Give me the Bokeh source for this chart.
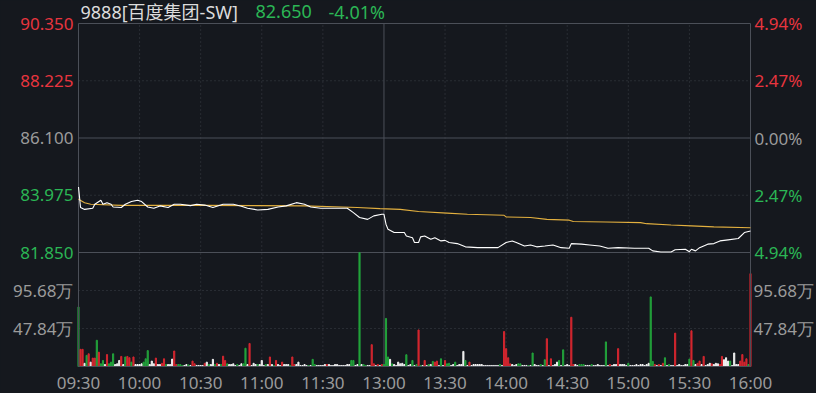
from bokeh.plotting import figure
from bokeh.models import (Range1d, LabelSet, Label, ColumnDataSource, GlobalInlineStyleSheet)
from bokeh.core.properties import field, value
from bokeh.embed import file_html
from bokeh.resources import INLINE

# ---------------- data ----------------
stock_name = "9888[百度集团-SW]"
last_price = "82.650"
last_change = "-4.01%"

time_ticks = [0, 30, 60, 90, 120, 150, 180, 210, 240, 270, 300, 330]
time_labels = ["09:30", "10:00", "10:30", "11:00", "11:30", "13:00",
               "13:30", "14:00", "14:30", "15:00", "15:30", "16:00"]
session_break = 150

price_ticks = [90.350, 88.225, 86.100, 83.975, 81.850]
price_labels = ["90.350", "88.225", "86.100", "83.975", "81.850"]
pct_labels = ["4.94%", "2.47%", "0.00%", "2.47%", "4.94%"]
label_kind = ["up", "up", "flat", "down", "down"]
prev_close = 86.100

vol_ticks = [95.68, 47.84]
vol_labels = ["95.68万", "47.84万"]
vol_max = 143.52

price_min = [0, 1, 3, 7, 8, 11, 12, 14, 16, 17, 21, 23, 26, 29, 31, 34, 37, 40, 44, 47,
             50, 55, 58, 62, 66, 71, 76, 80, 83, 88, 93, 98, 102, 107, 111, 114, 119, 127, 132, 135,
             138, 142, 145, 149, 150, 151, 152, 155, 160, 161, 164, 165, 167, 168, 170, 173, 175, 178, 180, 182,
             186, 190, 196, 202, 206, 210, 213, 215, 219, 222, 225, 229, 233, 237, 241, 242, 247, 251, 256, 260,
             265, 273, 280, 282, 286, 291, 293, 298, 300, 301, 303, 305, 309, 312, 315, 319, 324, 327, 328, 330]
price_val = [84.28, 83.52, 83.45, 83.49, 83.64, 83.79, 83.64, 83.70, 83.64, 83.54,
             83.52, 83.64, 83.74, 83.79, 83.74, 83.54, 83.49, 83.58, 83.52, 83.64,
             83.64, 83.59, 83.64, 83.61, 83.52, 83.64, 83.64, 83.57, 83.49, 83.43,
             83.45, 83.54, 83.58, 83.70, 83.64, 83.54, 83.49, 83.49, 83.49, 83.33,
             83.15, 83.08, 83.21, 83.27, 83.27, 82.90, 82.71, 82.59, 82.59, 82.46,
             82.40, 82.22, 82.22, 82.43, 82.46, 82.34, 82.40, 82.28, 82.30, 82.22,
             82.18, 82.06, 82.03, 82.03, 82.03, 82.22, 82.28, 82.22, 82.09, 82.13,
             82.06, 82.09, 82.13, 82.03, 82.01, 82.18, 82.16, 82.13, 82.09, 82.01,
             82.03, 82.01, 82.01, 81.91, 81.87, 81.87, 81.95, 81.97, 81.88, 81.97,
             81.91, 82.03, 82.16, 82.18, 82.28, 82.32, 82.37, 82.59, 82.61, 82.65]

avg_min = [0, 3, 6, 21, 62, 111, 137, 148, 158, 167, 181, 191, 209, 210, 222, 230, 241, 243,
           259, 276, 279, 291, 301, 312, 330]
avg_val = [83.83, 83.70, 83.64, 83.60, 83.60, 83.58, 83.52, 83.48, 83.45, 83.37, 83.31, 83.27,
           83.23, 83.17, 83.15, 83.08, 83.05, 83.00, 82.98, 82.96, 82.92, 82.87, 82.84, 82.80, 82.77]

# volume per minute (万)
volume = [
    75, 21.6, 21.6, 4, 14, 16, 5.5, 10.6, 10.6, 33,
    18, 3.4, 7.6, 2.5, 15, 3.4, 5.5, 16, 2.5, 3.4,
    7.6, 12.7, 2.5, 12, 12.7, 11, 5.5, 12, 2.5, 2.5,
    2.5, 3.4, 5.5, 9.7, 20, 2.5, 6.8, 3.4, 10.6, 2.5,
    2.5, 4, 9.7, 2.5, 2.5, 2.5, 9.3, 19.5, 2.5, 2.5,
    2.5, 1.3, 1.3, 2.5, 2, 1.3, 6.8, 3.4, 1.3, 1.3,
    1.3, 1.3, 4, 5.5, 2.5, 2.5, 9, 2.5, 4, 2.5,
    2.5, 13, 7.6, 3.4, 2.5, 2.5, 3.4, 1.3, 2.5, 1.3,
    3.4, 3.4, 23, 2.5, 29, 1.3, 4, 2.5, 2.5, 2.5,
    7.6, 1.3, 2.5, 2.5, 12, 2.5, 1.3, 7.6, 2.5, 1.3,
    5.5, 2.5, 2.5, 2.5, 1.3, 12, 2.5, 2.5, 5.5, 1.3,
    1.3, 2.5, 1.3, 1.3, 1.3, 9, 2.5, 1.3, 1.3, 1.3,
    1.3, 2.5, 2.5, 2.5, 1.3, 1.3, 2.5, 2.5, 1.3, 1.3,
    1.3, 1.3, 2.5, 2.5, 7.6, 7.6, 1.3, 2.5, 143.5, 2.5,
    2.5, 1.3, 1.3, 1.3, 27.5, 3.4, 1.3, 2.5, 1.3, 2.5,
    2.5, 60.5, 12, 9, 3.4, 2.5, 1.3, 5.5, 3.4, 4,
    2.5, 14.8, 1.3, 2.5, 7.6, 1.3, 2.5, 46, 1.3, 1.3,
    7.6, 1.3, 2.5, 2.5, 6.4, 5.5, 6.8, 1.3, 9.7, 1.3,
    7.6, 3.4, 4, 1.3, 2.5, 5.5, 1.3, 2.5, 2.5, 19,
    7.6, 1.3, 5.5, 1.3, 2.5, 2.5, 2.5, 2.5, 2.5, 1.3,
    1.3, 1.3, 1.3, 1.3, 1.3, 1.3, 1.3, 2.5, 1.3, 44,
    22.5, 11, 3.4, 2.5, 1.3, 2.5, 3.4, 3.4, 1.3, 1.3,
    1.3, 1.3, 1.3, 17, 2.5, 1.3, 1.3, 2.5, 1.3, 8.5,
    35, 1.3, 9.7, 1.3, 2.5, 5.5, 7.6, 1.3, 21, 1.3,
    2.5, 1.3, 62, 2.5, 2.5, 1.3, 2.5, 2.5, 2.5, 1.3,
    1.3, 1.3, 2.5, 1.3, 1.3, 2.5, 1.3, 1.3, 1.3, 31,
    1.3, 2.5, 1.3, 2.5, 2.5, 22.5, 2.5, 2.5, 2.5, 1.3,
    4, 1.3, 1.3, 1.3, 2.5, 1.3, 2.5, 2.5, 1.3, 2.5,
    4, 87.6, 6.4, 2.5, 1.3, 2.5, 1.3, 4, 11, 1.3,
    2.5, 1.3, 1.3, 42, 1.3, 2.5, 1.3, 1.3, 2.5, 2.5,
    9.3, 45, 7.6, 2.5, 4, 6.8, 2.5, 12.7, 1.3, 2.5,
    4, 3.4, 2.5, 4, 3.4, 2.5, 12.7, 8.5, 11, 6.8,
    6.8, 1.3, 17, 2.5, 2.5, 6.8, 15, 5.5, 9.7, 2.5,
    117,
]
# r = up, g = down, w = unchanged
direction = (
    "grrwgrwrrg" "rggwrgggww" "wrwgrrgrww" "wwgggwwwrw" "wrrgwwwrrg"
    "ggwwgwrrww" "wwrwgwwgrw" "grrgwwwwgw" "wggwrwwwgw" "wwgwrwgrww"
    "rwwwgrrwww" "wwwgwggwww" "wwrwwwwwww" "wwwwggwwgw" "ggwwrrwrwr"
    "gggwgwwwww" "wgwwgwgrgw" "rwgwgrrwgw" "rggwwgwwww" "gwrwwwwwww"
    "wwwwwwwgwr" "rrrwwwggww" "wgwgwwwgwg" "rwrwwwgwgw" "wwrrwwgggw"
    "wwgwwwwwwg" "wrwwwrwwww" "gwwwwwwwww" "wggrwrwrgw" "gwwrwwwwww"
    "grgwrrwrww" "wrwwwrrwww" "gwwwwrrrrg" "r"
)

# ---------------- styling / layout ----------------
BG = "#15181e"
GRID = "#3c4048"
SOLID = "#4b4f58"
GRAY = "#9b9b9b"
RED_T = "#e8353f"
GREEN_T = "#2bb655"
FONT_TITLE = '"Noto Sans", "Noto Sans CJK SC"'
FONT = value("Noto Sans")
FS = value("17px")
FS_TITLE = "18px"
bar_colors = {"r": "#d5262f", "g": "#22a33b", "w": "#f2f2f2"}
txt_colors = {"up": RED_T, "flat": GRAY, "down": GREEN_T}

W, H = 816, 393
LEFT_PX, RIGHT_PX = 78, 750          # chart box, page pixels
TOP_PX, SPLIT_PX, BOT_PX = 23, 252, 366
TIME_LABEL_PX, TITLE_PX = 382, 11

t0, t1 = time_ticks[0], time_ticks[-1]
kx = (RIGHT_PX - LEFT_PX) / (t1 - t0)                 # px per minute
p_top, p_bot = price_ticks[0], price_ticks[-1]
ppx = (p_top - p_bot) / (SPLIT_PX - TOP_PX)          # price per px
vpx = vol_max / (BOT_PX - SPLIT_PX)                  # volume per px
box_bottom = p_top - (BOT_PX - TOP_PX) * ppx         # price value at the box bottom

p = figure(width=W, height=H, output_backend="svg", toolbar_location=None,
           title=None, x_axis_location=None, y_axis_location=None,
           x_range=Range1d(t0 - LEFT_PX / kx, t1 + (W - RIGHT_PX) / kx),
           y_range=Range1d(p_top - (H - TOP_PX) * ppx, p_top + TOP_PX * ppx),
           background_fill_color=BG, border_fill_color=BG, min_border=0)
p.extra_y_ranges = {"vol": Range1d(-(H - BOT_PX) * vpx, BOT_PX * vpx)}
p.outline_line_color = None
p.grid.visible = False
p.stylesheets = [GlobalInlineStyleSheet(
    css="html,body{margin:0;padding:0;background:%s;overflow:hidden}" % BG)]

# grid lines
inner = [t for t in time_ticks[1:-1] if t != session_break]
p.segment(x0=inner, x1=inner, y0=[box_bottom] * len(inner), y1=[p_top] * len(inner),
          line_color=GRID, line_width=1, line_dash="1 3")
p.segment(x0=[session_break], x1=[session_break], y0=[box_bottom], y1=[p_top],
          line_color=SOLID, line_width=1)
dotted_p = [v for v in price_ticks[1:] if v not in (prev_close, p_bot)]
p.segment(x0=[t0] * len(dotted_p), x1=[t1] * len(dotted_p), y0=dotted_p, y1=dotted_p,
          line_color=GRID, line_width=1, line_dash="1 3")
p.segment(x0=[t0, t0], x1=[t1, t1], y0=[prev_close, p_bot], y1=[prev_close, p_bot],
          line_color=SOLID, line_width=1)
p.segment(x0=[t0] * 2, x1=[t1] * 2, y0=vol_ticks, y1=vol_ticks, y_range_name="vol",
          line_color=GRID, line_width=1, line_dash="1 3")

# volume bars
vsrc = ColumnDataSource(dict(x=list(range(len(volume))), top=volume,
                             c=[bar_colors[d] for d in direction]))
p.vbar(x="x", top="top", bottom=0, width=0.55, color="c", source=vsrc, y_range_name="vol")

# box outline
p.quad(left=[t0], right=[t1], bottom=[box_bottom], top=[p_top],
       fill_alpha=0, line_color=SOLID, line_width=1)

# price and average lines
p.line(avg_min, avg_val, line_color="#e3b03f", line_width=1.1)
p.line(price_min, price_val, line_color="#ffffff", line_width=1.1)

# left / right price labels
n = len(price_ticks)
psrc = ColumnDataSource(dict(y=price_ticks, t=price_labels, pc=pct_labels,
                             c=[txt_colors[k] for k in label_kind],
                             xl=[t0] * n, xr=[t1] * n))
p.add_layout(LabelSet(x="xl", y="y", text="t", source=psrc, x_offset=-5,
                      text_align="right", text_baseline="middle", text_color=field("c"),
                      text_font=FONT, text_font_size=FS))
p.add_layout(LabelSet(x="xr", y="y", text="pc", source=psrc, x_offset=4,
                      text_align="left", text_baseline="middle", text_color=field("c"),
                      text_font=FONT, text_font_size=FS))

m = len(vol_ticks)
vsrc2 = ColumnDataSource(dict(y=vol_ticks, t=vol_labels, xl=[t0] * m, xr=[t1] * m))
p.add_layout(LabelSet(x="xl", y="y", text="t", source=vsrc2, y_range_name="vol", x_offset=-5,
                      text_align="right", text_baseline="middle", text_color=GRAY,
                      text_font=FONT, text_font_size=FS))
p.add_layout(LabelSet(x="xr", y="y", text="t", source=vsrc2, y_range_name="vol", x_offset=3,
                      text_align="left", text_baseline="middle", text_color=GRAY,
                      text_font=FONT, text_font_size=FS))

# time labels
tsrc = ColumnDataSource(dict(x=time_ticks, t=time_labels,
                             y=[p_top - (TIME_LABEL_PX - TOP_PX) * ppx] * len(time_ticks)))
p.add_layout(LabelSet(x="x", y="y", text="t", source=tsrc, text_align="center",
                      text_baseline="middle", text_color=GRAY,
                      text_font=FONT, text_font_size=FS))

# header
title_y = p_top + (TOP_PX - TITLE_PX) * ppx
for txt, off, col in [(stock_name, 2, "#dcdcdc"), (last_price, 177, GREEN_T), (last_change, 250, GREEN_T)]:
    p.add_layout(Label(x=t0, y=title_y, x_offset=off, text=txt, text_color=col,
                       text_align="left", text_baseline="middle",
                       text_font=FONT_TITLE, text_font_size=FS_TITLE))

open("out.html", "w").write(file_html(p, INLINE))
